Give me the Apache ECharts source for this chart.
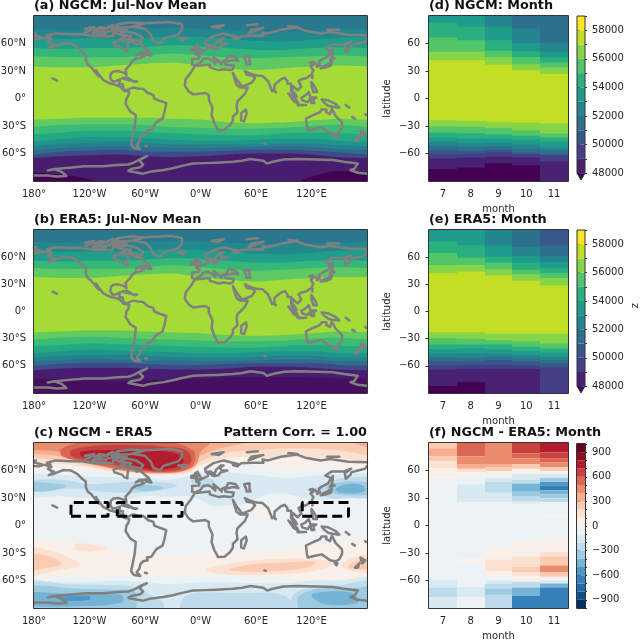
<!DOCTYPE html>
<html><head><meta charset="utf-8">
<style>html,body{margin:0;padding:0;background:#fff}#c{width:640px;height:640px;filter:blur(0.4px)}</style>
<script src="https://cdn.jsdelivr.net/npm/echarts@6/dist/echarts.min.js"></script>
</head><body><div id="c"></div>
<script>
// ---------- tick labels ----------
const lonTicks=[-180,-120,-60,0,60,120];
const lonTickLabels=['180°','120°W','60°W','0°W','60°E','120°E'];
const latTicks=[-60,-30,0,30,60];
const latMapLabels=['60°S','30°S','0°','30°N','60°N'];
const months=[7,8,9,10,11];
const zLevels=[48000,49000,50000,51000,52000,53000,54000,55000,56000,57000,58000,59000];
const zColors=['#482173','#433e85','#38588c','#2d708e','#25858e','#1e9b8a','#2ab07f','#52c569','#86d549','#c2df23','#fde725'];
const zUnder='#440154';
const zTicks=[48000,50000,52000,54000,56000,58000];
const diffLevels=[-1000,-900,-800,-700,-600,-500,-400,-300,-200,-100,0,100,200,300,400,500,600,700,800,900,1000];
const diffColors=['#053061','#144c88','#2368ad','#3580b9','#4b98c6','#75b3d4','#9ccae1','#bddbea','#d9e9f2','#edf2f5','#f9f0ea','#fce1d1','#facab1','#f5ae8e','#e98c6e','#d96753','#c7423f','#b41c2d','#8e0d25','#67001f'];
const diffTicks=[-900,-600,-300,0,300,600,900];

// ---------- panels (a),(b): latitude of each contour boundary at these longitudes ----------
const bandLons=[-180,-150,-120,-90,-60,-30,0,30,60,90,120,150,180];
const aBandColors=['#2a788e','#23888e','#1f9e89','#35b779','#5ec962','#a5db36','#62cb5f','#3bbb75','#24aa83','#1f968b','#27808e','#2f6c8e','#3f4a89','#481c6e','#440154'];
const aBounds=[
[76,75,75,75,76,77,76,75,74,73,74,75,76],
[67,65,66,65,66,68,67,65,63,62,64,66,67],
[55,54,55,55,56,58,57,55,53,53,55,56,55],
[46,45,45,45,47,49,47,45,44,45,46,47,46],
[35,34,34,36,38,39,36,33,31,33,35,36,35],
[-23,-22,-21,-21,-21,-22,-23,-26,-27,-26,-24,-22,-23],
[-31,-29,-28,-28,-29,-31,-32,-33,-33,-32,-30,-29,-31],
[-39,-37,-35,-35,-36,-38,-39,-40,-40,-38,-37,-38,-39],
[-47,-44,-42,-42,-43,-45,-46,-46,-45,-44,-44,-46,-47],
[-52,-49,-48,-47,-48,-50,-50,-50,-50,-49,-49,-51,-52],
[-56,-54,-52,-52,-53,-54,-54,-54,-53,-52,-53,-55,-56],
[-61,-58,-57,-56,-58,-58,-58,-57,-56,-56,-57,-59,-61],
[-65,-63,-62,-61,-63,-64,-63,-61,-60,-60,-61,-64,-65],
[-81,-83,-88,-95,-95,-95,-95,-95,-95,-95,-85,-79,-81]];
const bBandColors=['#2a788e','#23888e','#1f9e89','#35b779','#5ec962','#a5db36','#62cb5f','#3bbb75','#24aa83','#1f968b','#27808e','#2f6c8e','#3f4a89','#481c6e','#470f60'];
const bBounds=[
[77,76,76,76,77,78,78,76,75,74,75,76,77],
[68,66,66,66,67,69,68,66,64,63,65,67,68],
[56,55,56,56,57,59,58,56,54,54,56,57,56],
[48,47,47,47,49,51,49,47,45,46,48,49,48],
[38,37,37,39,41,42,38,35,33,35,37,38,38],
[-23,-22,-21,-21,-22,-23,-24,-26,-27,-26,-24,-22,-23],
[-31,-29,-28,-29,-30,-31,-32,-33,-33,-32,-30,-29,-31],
[-38,-37,-35,-36,-37,-38,-39,-40,-40,-38,-37,-38,-38],
[-46,-44,-42,-43,-44,-45,-46,-46,-45,-44,-44,-46,-46],
[-51,-49,-48,-48,-49,-50,-51,-51,-50,-49,-49,-51,-51],
[-55,-54,-52,-53,-54,-54,-55,-55,-54,-53,-53,-55,-55],
[-60,-58,-57,-57,-58,-59,-59,-58,-57,-57,-57,-59,-60],
[-65,-63,-62,-62,-63,-64,-64,-63,-61,-61,-62,-64,-65],
[-74,-75,-76,-77,-76,-75,-74,-73,-72,-72,-73,-74,-74]];

// ---------- panels (d),(e): for field >= level k, north and south latitude by month ----------
const dNorth=[
[90,90,90,90,90],[90,90,90,90,90],[90,90,90,90,90],[90,90,90,90,90],
[90,90,90,76.4,61],[90,90,78.5,60.3,50.9],[82.9,78.5,63.6,51.3,44.7],
[66.5,63.6,52,45.4,39.3],[50.9,50.9,45.1,37.5,33.8],[41.8,41.8,36.7,30.9,26.6]];
const dSouth=[
[-77,-75.2,-70.9,-72.7,-90],[-65.4,-64.7,-63.6,-64.3,-68.7],[-60.7,-60.3,-58.9,-60.7,-62],[-56,-57.4,-56,-58.9,-60.7],
[-51.6,-53,-52.7,-54.5,-56],[-47.2,-48.7,-48,-50.1,-53.4],[-42.5,-43.6,-43.6,-45,-47.2],
[-37.1,-37.8,-38.9,-40.7,-42.5],[-30.5,-30.9,-32.3,-34.5,-38.2],[-23.6,-24.3,-25.4,-26.2,-27.2]];
const eNorth=[
[90,90,90,90,90],[90,90,90,90,90],[90,90,90,90,90],[90,90,90,90,73],
[90,90,90,71.2,61.1],[90,90,73,61.1,54.9],[77.7,73,60.4,53.8,47.7],
[64.7,59.3,53.8,45.9,42.3],[51.3,51.3,46.6,41.2,36.9],[42.3,44.1,39.8,34,28.6]];
const eSouth=[
[-82.4,-78,-90,-90,-90],[-64.3,-63.6,-63.6,-63.6,-90],[-59.6,-58.9,-58.9,-59.6,-61.8],[-54.6,-54.6,-53.5,-55.3,-57.1],
[-50.6,-51,-49.9,-51.7,-53.5],[-46.3,-46.3,-46.3,-48,-49.9],[-41.6,-40.8,-41.6,-43.7,-45.2],
[-36.5,-36.5,-36.5,-39,-40.8],[-29.3,-30,-31.8,-32.9,-35.4],[-22.8,-22.8,-24.6,-24.6,-24.6]];

// ---------- panel (f): lower latitude edge and value of each segment from the pole down ----------
const fEdges7=[84.3,75.3,70,62.5,52.1,-58.9,-67.5,-78.5,-90];
const fVals7=[250,350,250,150,50,-50,-150,-250,-150];
const fEdges8=[75.3,67.1,61.8,58.2,53.9,45,25.3,-37.1,-40.7,-66.8,-78.5,-90];
const fVals8=[550,450,350,150,50,-50,-150,-50,50,-50,-150,-50];
const fEdges9=[67.1,63.5,59.3,54.6,52.1,47.5,35.7,25.3,-23.9,-37.1,-49.6,-55,-59.6,-63.2,-69.3,-75.7,-90];
const fVals9=[450,350,250,50,-50,-150,-250,-150,-50,50,150,50,-50,-150,-250,-350,-250];
const fEdges10=[78.9,73.5,67.1,61.8,56.4,50.3,45.7,36.8,31.4,26.1,23.6,-16.8,-33.6,-45.3,-50.7,-55,-61.4,-67.5,-76.8,-90];
const fVals10=[650,550,450,250,50,-150,-250,-450,-350,-250,-150,-50,50,150,250,150,50,-250,-450,-650];
const fEdges11=[79.6,73.5,68.9,63.5,59.3,56.4,52.1,47.5,43.9,38.6,33.9,29.6,25.3,11.8,10,-13.2,-28.6,-33.6,-43.6,-50.7,-56,-59.6,-63.2,-67.5,-90];
const fVals11=[750,650,550,450,250,50,-150,-350,-550,-650,-450,-350,-250,-50,50,-50,50,150,250,450,250,50,-150,-450,-650];

// ---------- panel (c): contour regions, [value, [lon,lat]...] ----------
const cBase=[-50,[-190,95],[190,95],[190,-95],[-190,-95]];
const cSouthPink=[50,[-190,-18],[-150,-18],[-120,-20],[-100,-24],[-70,-30],[-40,-32],[-10,-32],[20,-28],[60,-28],[90,-25],[120,-22],[150,-18],[190,-15],[190,-55],[150,-58],[120,-60],[90,-58],[60,-56],[30,-54],[0,-54],[-30,-54],[-60,-54],[-90,-54],[-120,-54],[-150,-56],[-190,-55]];
const cIndianPink=[50,[53,22],[68,18],[82,16],[78,8],[65,8],[53,14]];
const cMidNorth150=[-150,[-190,54],[-150,55],[-120,53],[-90,53],[-60,52],[-40,50],[-20,52],[0,57],[30,58],[60,55],[90,52],[120,54],[150,56],[190,54],[190,33],[150,30],[130,28],[120,28],[90,35],[70,33],[50,24],[30,22],[10,22],[0,28],[-15,32],[-30,31],[-60,32],[-90,29],[-120,30],[-150,32],[-190,33]];
const cMid250a=[-250,[-190,48],[-150,50],[-120,45],[-90,47],[-60,48],[-40,47],[-25,44],[-45,38],[-65,36],[-90,36],[-110,37],[-130,40],[-150,40],[-190,40]];
const cMid250b=[-250,[-10,50],[5,52],[15,48],[10,42],[-5,42]];
const cMid250c=[-250,[122,38],[140,48],[160,52],[190,50],[190,32],[160,30],[140,30]];
const cMid350a=[-350,[-190,46],[-160,46],[-145,43],[-160,38],[-190,38]];
const cMid350b=[-350,[-72,44],[-55,44],[-40,41],[-55,38],[-70,39]];
const cMid350c=[-350,[136,42],[150,47],[165,48],[190,45],[190,36],[165,33],[145,35]];
const cMid450=[-450,[146,40],[158,45],[175,44],[178,38],[165,35],[150,36]];
const cWest150=[150,[-190,-25],[-160,-28],[-140,-36],[-130,-43],[-150,-48],[-190,-53]];
const cPac150=[150,[-135,-20],[-118,-21],[-100,-25],[-118,-28],[-135,-27]];
const cInd150=[150,[5,-48],[30,-42],[60,-38],[100,-36],[130,-37],[145,-42],[120,-50],[90,-53],[50,-54],[20,-53]];
const cEast150=[150,[190,-30],[165,-35],[152,-44],[165,-50],[190,-50]];
const cWest250=[250,[-190,-32],[-165,-33],[-150,-42],[-165,-46],[-190,-48]];
const cInd250=[250,[30,-48],[60,-42],[100,-40],[125,-40],[110,-47],[70,-50],[40,-50]];
const cEast250=[250,[190,-36],[165,-40],[160,-46],[175,-48],[190,-46]];
const cAnt150=[-150,[-190,-62],[-150,-62],[-120,-62],[-90,-60],[-60,-62],[-30,-64],[0,-62],[30,-62],[60,-63],[90,-63],[120,-60],[150,-60],[190,-58],[190,-95],[-190,-95]];
const cAnt250a=[-250,[-190,-64],[-140,-64],[-100,-65],[-70,-67],[-55,-75],[-40,-85],[-45,-95],[-190,-95]];
const cAnt250b=[-250,[-20,-95],[-15,-76],[40,-74],[90,-76],[100,-95]];
const cAnt250c=[-250,[95,-95],[100,-76],[110,-70],[130,-66],[150,-65],[190,-62],[190,-95]];
const cAnt350a=[-350,[-190,-68],[-130,-69],[-90,-70],[-70,-73],[-75,-95],[-190,-95]];
const cAnt350b=[-350,[105,-80],[115,-72],[140,-68],[170,-68],[190,-66],[190,-95],[110,-95]];
const cAnt450a=[-450,[-190,-74],[-150,-74],[-110,-74],[-85,-76],[-85,-84],[-130,-88],[-190,-86]];
const cAnt450b=[-450,[120,-76],[140,-72],[165,-74],[170,-84],[135,-86]];
const cAnt550=[-550,[-150,-78],[-120,-77],[-120,-81],[-150,-82]];
const cNorth50=[50,[-190,64],[-150,62],[-120,60],[-90,56],[-60,55],[-30,55],[-15,56],[0,60],[30,66],[60,66],[90,62],[120,62],[150,64],[190,64],[190,100],[-190,100]];
const cNorth150=[150,[-190,71],[-150,67],[-120,63],[-90,58],[-60,56],[-30,56],[-12,58],[0,66],[30,74],[60,74],[90,74],[120,74],[150,74],[190,71],[190,100],[-190,100]];
const cNorth250=[250,[-190,78],[-150,71],[-120,65],[-90,60],[-60,57],[-30,57],[-10,60],[0,70],[30,80],[60,82],[90,84],[120,84],[150,82],[190,78],[190,100],[-190,100]];
const cNorth350=[350,[-190,82],[-150,75],[-125,68],[-90,62],[-60,58],[-30,58],[-8,64],[0,76],[25,85],[60,92],[100,98],[150,95],[190,84],[190,100],[-190,100]];
const cNorth450=[450,[-190,85],[-150,80],[-130,72],[-100,63],[-70,58],[-40,57],[-20,59],[-5,66],[0,80],[10,90],[10,100],[-190,100]];
const cNorth550=[550,[-150,84],[-120,92],[-40,92],[-8,82],[-7,68],[-18,60],[-40,58],[-60,59],[-80,61],[-100,64],[-125,69],[-150,76]];
const cNorth650=[650,[-140,82],[-115,87],[-80,88],[-40,86],[-15,82],[-10,70],[-20,62],[-40,59],[-60,60],[-80,63],[-100,67],[-125,71],[-140,76]];
const cNorth750=[750,[-130,80],[-110,82],[-80,83],[-50,82],[-25,78],[-18,70],[-25,64],[-40,61],[-55,61],[-68,64],[-85,68],[-110,72],[-128,75]];
const cRegions=[cBase,cSouthPink,cIndianPink,cMidNorth150,cMid250a,cMid250b,cMid250c,cMid350a,cMid350b,cMid350c,cMid450,cWest150,cPac150,cInd150,cEast150,cWest250,cInd250,cEast250,cAnt150,cAnt250a,cAnt250b,cAnt250c,cAnt350a,cAnt350b,cAnt450a,cAnt450b,cAnt550,cNorth50,cNorth150,cNorth250,cNorth350,cNorth450,cNorth550,cNorth650,cNorth750];
const boxLons=[[-140,-100],[-90,-20],[110,160]];
const boxLats=[10,25];

// ---------- coastlines, lon/lat ----------
const coastAmericas=[[-168,66],[-162,66.5],[-166,68.5],[-157,71],[-141,70],[-128,70],[-115,68],[-108,68],[-95,68],[-94,72],[-85,69],[-81,68],[-87,64],[-94,61],[-93,58],[-85,55.5],[-82,52.5],[-79,51.5],[-79,55],[-77,57],[-78,62],[-73,62],[-69,59],[-65,60],[-61,56],[-56,52],[-60,50],[-66,50],[-70,47],[-65,49],[-65,47],[-61,46],[-66,44],[-70,43.5],[-70,41.5],[-74,40.5],[-76,37],[-76,35],[-81,31.5],[-80,26],[-81,25],[-82.5,28],[-84,30],[-89,30],[-94,29.5],[-97,27],[-97.5,22],[-95,18.5],[-91,19],[-90,21],[-87,21],[-88,16],[-84,15.5],[-83.5,11],[-81,9],[-78,9.5],[-75.5,11],[-72,12],[-71,11],[-68,11],[-62,10.5],[-57,6],[-51,4],[-50,0],[-44,-2.5],[-37,-5],[-35,-7],[-39,-15],[-41,-22],[-48,-26],[-53,-34],[-58,-35],[-57,-38],[-62,-39],[-65,-42],[-66,-47],[-69,-51],[-65,-55],[-72,-54],[-75,-50],[-73,-40],[-71,-30],[-70,-18],[-76,-14],[-81,-6],[-80,0],[-78,3],[-77,7],[-80,8],[-83,8.5],[-87,13],[-92,15],[-97,16],[-105,20],[-109,25],[-113,31],[-110,24],[-115,30],[-118,34],[-122,37],[-124,42],[-124,48],[-128,51],[-133,56],[-140,60],[-148,60.5],[-152,59],[-158,56.5],[-164,55],[-158,58.5],[-162,60],[-165,62],[-161,64],[-168,66]];
const coastEurasia=[[-9,37],[-9,43],[-2,43.5],[-1,46],[-4.5,48],[2,51],[8,54],[8,57],[11,56],[10,54],[14,54],[19,54.5],[22,58],[29,60],[23,60],[21,63],[25,65.5],[22,65.5],[17,61],[18,59],[15,56],[13,55.5],[11,59],[6,58],[5,62],[14,68],[25,71],[40,67],[35,66],[40,64.5],[44,68],[55,68.5],[68,68.5],[67,72],[73,71],[75,72.5],[87,75],[104,77.5],[113,74],[130,71],[140,72.5],[160,69.5],[180,69]];
const coastChukotka=[[-180,69],[-170,66],[-175,64.5],[-180,65]];
const coastAsiaEast=[[180,65],[178,62],[170,60],[163,58],[162,55],[157,51],[156,57],[163,62],[155,59],[142,59],[135,54.5],[141,52],[138,46],[132,43],[128,40],[129,36],[126,34.5],[126,37],[125,39],[121,40],[118,39],[122,37],[119,35],[122,31],[120,26],[114,22],[109,21],[106,19],[109,13],[105,9],[103,11],[100,13.5],[99,9],[103,4],[104,1.5],[101,3],[98,8],[98,16],[94,16],[94,19],[91,22.5],[87,21],[80,15],[80,10],[77.5,8],[73,19],[72,21],[67,24.5],[61,25],[57,26],[52,28],[48,30],[50,26],[52,24],[56,25],[59,22],[55,17],[45,13],[43,13],[39,21],[35,28],[33,30],[33,28],[37,21],[39,15],[43,12],[51,12],[48,5],[40,-3],[39,-8],[40,-15],[35,-20],[35,-24],[32,-29],[26,-34],[19,-34.5],[15,-27],[12,-18],[13,-10],[9,-1],[9,4],[5,6],[-4,5],[-8,4.5],[-13,8],[-17,14],[-16,21],[-10,29],[-6,35.5],[0,36],[10,37],[10,34],[20,31],[25,32],[32,31],[35,32],[36,36],[30,36.5],[27,37],[26,40],[30,41],[36,42],[41,41],[38,45],[33,46],[30,46],[28,42],[26,40.5],[23,40],[23,37],[20,40],[14,45],[12,44],[16,41],[18,40],[16,38],[12,42],[8,44],[3,43],[0,39],[-2,37],[-6,36],[-9,37]];
const coastAntarctica=[[-180,-84],[-165,-84],[-155,-85],[-145,-84.5],[-150,-80],[-158,-77],[-165,-78.5],[-157,-77],[-142,-75.5],[-125,-74],[-105,-74],[-90,-72.5],[-78,-72],[-72,-70],[-65,-66],[-58,-63],[-62,-65],[-66,-68],[-62,-72],[-65,-75],[-75,-77],[-78,-79],[-62,-82],[-55,-80],[-40,-78],[-30,-76],[-20,-73.5],[-8,-71],[5,-70.5],[17,-70],[35,-69],[45,-68],[54,-66],[68,-68],[72,-71],[78,-69],[90,-66.5],[105,-66],[125,-66.5],[143,-67],[155,-69],[170,-71],[166,-77],[162,-78],[170,-81],[180,-82]];
const coastIslands=[
[[-85,22],[-80,23],[-74.5,20],[-78,20],[-85,22]],[[-74,19],[-68.5,18.5],[-71,18],[-74,19]],
[[-80,73],[-70,71],[-62,66],[-65,62],[-72,64],[-78,65],[-75,68],[-88,70],[-80,73]],[[-117,70],[-105,69],[-102,72],[-115,73],[-117,70]],
[[-125,72],[-118,75],[-116,73],[-125,72]],[[-90,77],[-75,78],[-62,82],[-75,83],[-90,81],[-90,77]],[[-96,75],[-80,75],[-85,73],[-96,75]],
[[-118,76],[-105,76],[-108,74.5],[-118,76]],[[-95,80],[-88,78],[-92,76.5],[-100,78],[-95,80]],[[-59,48],[-53,47],[-56,51.5],[-59,48]],
[[-95,73],[-90,73],[-92,71],[-95,73]],[[-101,73],[-97,73.5],[-97,71.5],[-101,73]],[[-87,65],[-80,64],[-84,62.5],[-87,65]],[[-110,78],[-100,76.5],[-104,75.5],[-110,78]],[[-125,76],[-115,78],[-118,76.5],[-125,76]],
[[-73,78],[-60,82],[-32,83.5],[-20,81],[-20,75],[-24,70],[-40,65],[-44,60],[-51,63],[-54,70],[-60,76],[-73,78]],
[[-24,65.5],[-15,66],[-14,64.5],[-19,63.5],[-24,65.5]],[[47,45],[53,46],[53,40],[54,37],[50,37],[49,41],[47,45]],
[[-5,50],[1,51],[0,53],[-2,56],[-3,58.5],[-6,57],[-3,54],[-5,52],[-5,50]],[[-10,52],[-6,52],[-6,55],[-10,54],[-10,52]],
[[44,-16],[49,-12],[50,-16],[47,-25],[44,-24],[44,-16]],[[130,33],[136,34],[141,36],[142,40],[140,41],[137,37],[132,35],[130,33]],
[[140,42],[145,43.5],[142,45.5],[140,42]],[[142,46],[143,50],[143,54],[142,50],[142,46]],[[120,18],[122,18],[124,12],[126,7],[122,7],[120,14],[120,18]],
[[109,1],[113,3],[117,7],[119,1],[116,-4],[110,-2],[109,1]],[[95,5.5],[104,-2],[106,-6],[101,-3],[95,5.5]],[[105,-7],[114,-7],[114,-8.5],[106,-7.5],[105,-7]],
[[120,1],[125,1],[122,-1],[123,-5],[120,-5],[119,-2],[120,1]],[[131,-1],[138,-2],[146,-6],[150,-10],[143,-9],[138,-8],[133,-4],[131,-1]],
[[114,-22],[122,-18],[129,-15],[131,-12],[136,-12],[136,-15],[140,-17],[142,-11],[146,-19],[153,-26],[153,-31],[150,-37],[146,-39],[140,-38],[136,-35],[131,-31.5],[124,-33],[116,-35],[115,-31],[114,-22]],
[[145,-41],[148,-41],[147,-43.5],[145,-41]],[[173,-35],[178,-38],[175,-41.5],[174,-39],[173,-35]],[[172,-41],[174,-42],[170,-46],[167,-46],[172,-41]],
[[-160,22],[-155,19.5]],[[69,-49],[70.5,-49.5]],[[52,71],[68,77],[55,75],[52,71]],[[12,78],[25,80],[20,77],[12,78]],[[50,80],[62,81]],[[95,79],[105,78]],[[137,75],[150,75]],
[[-60,-51.5],[-58,-52]],[[164,-20],[167,-22]],[[157,-7],[161,-10]],[[178,-17],[179,-18]],[[-180,71],[-178,71]],[[80,8],[81.5,7]],[[121,25],[121,22]]];
const coasts=[coastAmericas,coastEurasia,coastChukotka,coastAsiaEast,coastAntarctica,...coastIslands];

// ---------- layout ----------
const grids=[
 {id:'a',left:34,top:16,width:333,height:165,kind:'map',title:'(a) NGCM: Jul-Nov Mean'},
 {id:'b',left:34,top:230,width:333,height:163,kind:'map',title:'(b) ERA5: Jul-Nov Mean'},
 {id:'c',left:34,top:443,width:333,height:165,kind:'map',title:'(c) NGCM - ERA5'},
 {id:'d',left:429,top:16,width:139,height:165,kind:'month',title:'(d) NGCM: Month'},
 {id:'e',left:429,top:230,width:139,height:163,kind:'month',title:'(e) ERA5: Month'},
 {id:'f',left:429,top:443,width:139,height:165,kind:'month',title:'(f) NGCM - ERA5: Month'},
 {id:'cd',left:577,top:16,width:8,height:164,kind:'zbar'},
 {id:'ce',left:577,top:230,width:8,height:163,kind:'zbar'},
 {id:'cf',left:577,top:444,width:8,height:164,kind:'dbar'}];
const INK='#333';
const font='DejaVu Sans';
const axisText={color:'#262626',fontSize:10,fontFamily:font};
const titleStyle={fontSize:12.8,fontWeight:'bold',fontFamily:font,color:'#111',lineHeight:13};
const tick=(vals,len)=>({show:true,length:len||3.5,lineStyle:{color:INK,width:1},customValues:vals});
const option={animation:false,grid:[],xAxis:[],yAxis:[],series:[],
 title:[],graphic:[{type:'text',left:630,top:303,rotation:Math.PI/2,style:{text:'z',font:'10px "DejaVu Sans"',fill:'#262626'}}]};

grids.forEach((g,i)=>{
 option.grid.push({left:g.left,top:g.top,width:g.width,height:g.height,show:false,containLabel:false,outerBoundsMode:'none'});
 if(g.title)option.title.push({text:g.title,left:g.left,top:g.top-17,padding:0,textStyle:titleStyle});
 const xa={gridIndex:i,type:'value',splitLine:{show:false},axisLine:{show:false}};
 const ya={gridIndex:i,type:'value',splitLine:{show:false},axisLine:{show:false}};
 if(g.kind==='map'){
  Object.assign(xa,{min:-180,max:180,axisTick:tick(lonTicks),axisLabel:{...axisText,margin:8,customValues:lonTicks,formatter:v=>lonTickLabels[lonTicks.indexOf(v)]}});
  Object.assign(ya,{min:-90,max:90,axisTick:tick(latTicks),axisLabel:{...axisText,margin:8,customValues:latTicks,formatter:v=>latMapLabels[latTicks.indexOf(v)]}});
 }else if(g.kind==='month'){
  Object.assign(xa,{min:6.5,max:11.5,name:'month',nameLocation:'middle',nameGap:23,nameTextStyle:axisText,axisTick:tick(months),axisLabel:{...axisText,margin:8,customValues:months,formatter:v=>String(v)}});
  Object.assign(ya,{min:-90,max:90,name:'latitude',nameLocation:'middle',nameGap:37,nameTextStyle:axisText,axisTick:tick(latTicks),axisLabel:{...axisText,margin:9,customValues:latTicks,formatter:v=>String(v).replace('-','\u2212')}});
 }else{
  xa.min=0;xa.max=1;xa.axisTick={show:false};xa.axisLabel={show:false};
  const isZ=g.kind==='zbar';
  const ticks=isZ?zTicks:diffTicks;
  Object.assign(ya,{min:isZ?47520:-1000,max:isZ?59000:1000,position:'right',axisTick:tick(ticks),axisLabel:{...axisText,margin:7,customValues:ticks,formatter:v=>String(v).replace('-','\u2212')}});
 }
 option.xAxis.push(xa);option.yAxis.push(ya);
});
// second y axes for colourbar minor ticks
[[6,zLevels],[7,zLevels],[8,diffLevels]].forEach(([gi,lv])=>{
 const src=option.yAxis[gi];
 option.yAxis.push({gridIndex:gi,type:'value',min:src.min,max:src.max,position:'right',splitLine:{show:false},axisLine:{show:false},axisLabel:{show:false},axisTick:tick(lv,2)});
});

const bandSeries=(gi,bounds,colors)=>{
 const lines=[bandLons.map(()=>95),...bounds];
 lines.forEach((arr,k)=>option.series.push({type:'line',xAxisIndex:gi,yAxisIndex:gi,silent:true,symbol:'none',smooth:0.3,z:2+k*0.01,
  data:bandLons.map((x,j)=>[x,arr[j]]),lineStyle:{width:0},areaStyle:{color:colors[k],opacity:1,origin:'start'}}));
};
const coastSeries=gi=>coasts.forEach(c=>option.series.push({type:'line',xAxisIndex:gi,yAxisIndex:gi,silent:true,symbol:'none',z:6,data:c,lineStyle:{color:'#808080',width:2.5,join:'round',cap:'round'}}));
const frame=gi=>{
 const g=grids[gi];
 option.series.push({type:'custom',xAxisIndex:gi,yAxisIndex:gi,silent:true,clip:false,z:20,data:[[0]],
  renderItem:()=>({type:'rect',shape:{x:g.left-0.5,y:g.top-0.5,width:g.width+1,height:g.height+1},style:{fill:'none',stroke:INK,lineWidth:1}})});
};
const levelColor=v=>diffColors[Math.floor((v+1000)/100)];

bandSeries(0,aBounds,aBandColors);coastSeries(0);frame(0);
bandSeries(1,bBounds,bBandColors);coastSeries(1);frame(1);

option.series.push({type:'custom',xAxisIndex:2,yAxisIndex:2,silent:true,clip:true,z:2,data:cRegions.map((r,i)=>[i]),
 renderItem:(p,api)=>{const r=cRegions[api.value(0)];
  return {type:'polygon',shape:{points:r.slice(1).map(q=>api.coord(q)),smooth:0.35},style:{fill:levelColor(r[0]),stroke:null}};}});
coastSeries(2);
boxLons.forEach(b=>option.series.push({type:'line',xAxisIndex:2,yAxisIndex:2,silent:true,symbol:'none',z:8,
 data:[[b[0],boxLats[0]],[b[1],boxLats[0]],[b[1],boxLats[1]],[b[0],boxLats[1]],[b[0],boxLats[0]]],
 lineStyle:{color:'#000',width:3,type:[10,5]}}));
frame(2);

const rectItem=(api,x,lo,hi,fill)=>{const a=api.coord([x-0.5,hi]),b=api.coord([x+0.5,lo]);
 const x0=Math.round(a[0]),x1=Math.round(b[0]);
 return {type:'rect',shape:{x:x0,y:a[1],width:x1-x0,height:b[1]-a[1]},style:{fill}};};
const monthLevels=(gi,north,south)=>{
 const data=[];
 months.forEach((m,j)=>{data.push([m,-90,90,-1]);north.forEach((row,k)=>data.push([m,south[k][j],row[j],k]));});
 option.series.push({type:'custom',xAxisIndex:gi,yAxisIndex:gi,silent:true,clip:true,z:2,data,
  renderItem:(p,api)=>{const k=api.value(3);return rectItem(api,api.value(0),api.value(1),api.value(2),k<0?zUnder:zColors[k]);}});
 frame(gi);
};
monthLevels(3,dNorth,dSouth);monthLevels(4,eNorth,eSouth);

const fEdges=[fEdges7,fEdges8,fEdges9,fEdges10,fEdges11];
const fVals=[fVals7,fVals8,fVals9,fVals10,fVals11];
const fData=[];
months.forEach((m,j)=>{let top=90;fEdges[j].forEach((lo,k)=>{fData.push([m,lo,top,fVals[j][k]]);top=lo;});});
option.series.push({type:'custom',xAxisIndex:5,yAxisIndex:5,silent:true,clip:true,z:2,data:fData,
 renderItem:(p,api)=>rectItem(api,api.value(0),api.value(1),api.value(2),levelColor(api.value(3)))});
frame(5);

// colourbars
const zBar=gi=>{
 const data=zColors.map((c,k)=>[zLevels[k],zLevels[k+1],k]);
 const lo=option.yAxis[gi].min;
 option.series.push({type:'custom',xAxisIndex:gi,yAxisIndex:gi,silent:true,clip:false,z:3,data:data,
  renderItem:(p,api)=>{const a=api.coord([0,api.value(1)]),b=api.coord([1,api.value(0)]);
   return {type:'rect',shape:{x:a[0],y:a[1],width:b[0]-a[0],height:b[1]-a[1]},style:{fill:zColors[api.value(2)]}};}});
 option.series.push({type:'custom',xAxisIndex:gi,yAxisIndex:gi,silent:true,clip:false,z:4,data:[[0]],
  renderItem:(p,api)=>{const tl=api.coord([0,59000]),tr=api.coord([1,59000]),br=api.coord([1,48000]),bl=api.coord([0,48000]),tip=api.coord([0.5,lo]);
   return {type:'group',children:[
    {type:'polygon',shape:{points:[bl,br,tip]},style:{fill:zUnder}},
    {type:'polygon',z2:5,shape:{points:[tl,tr,br,tip,bl]},style:{fill:'none',stroke:INK,lineWidth:1}}]};}});
};
zBar(6);zBar(7);
option.series.push({type:'custom',xAxisIndex:8,yAxisIndex:8,silent:true,clip:false,z:3,data:diffColors.map((c,k)=>[diffLevels[k],diffLevels[k+1],k]),
 renderItem:(p,api)=>{const a=api.coord([0,api.value(1)]),b=api.coord([1,api.value(0)]);
  return {type:'rect',shape:{x:a[0],y:a[1],width:b[0]-a[0],height:b[1]-a[1]},style:{fill:diffColors[api.value(2)]}};}});
frame(8);
option.yAxis.slice(9).forEach((y,k)=>{
 // minor tick axes need a series bound to them
 option.series.push({type:'line',xAxisIndex:6+k,yAxisIndex:9+k,data:[],silent:true,symbol:'none'});
});

option.title.push({text:'Pattern Corr. = 1.00',right:273,top:426,padding:0,textStyle:titleStyle});

const chart=echarts.init(document.getElementById('c'),null,{renderer:'canvas',width:640,height:640});
chart.setOption(option);
</script></body></html>
